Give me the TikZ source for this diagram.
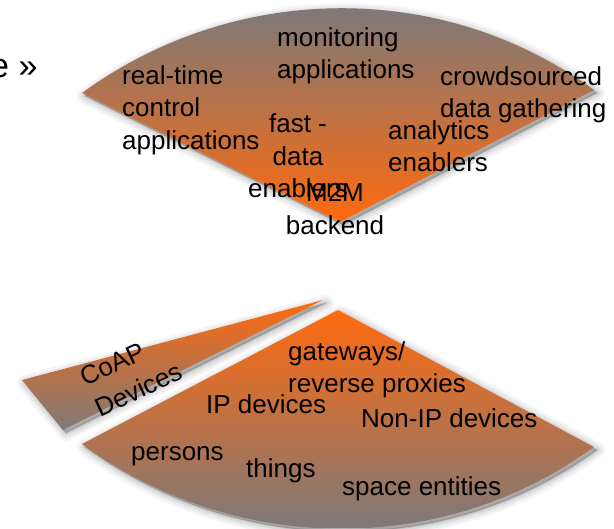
\documentclass[tikz,border=0pt]{standalone}
\usepackage{fontspec}
\setmainfont{Liberation Sans}
\definecolor{wgrey}{HTML}{7E7979}
\definecolor{worange}{HTML}{FF6A0E}
\begin{document}
\begin{tikzpicture}[x=1pt,y=-1pt,
  lbl/.style={font=\fontsize{26}{32.5}\selectfont, text=black, inner sep=0pt, align=left, anchor=west},
  ctr/.style={lbl, align=center, anchor=center},
  shadowlayer/.style={fill=black, draw=black, line join=round, shift={(3,3)}},
  % application layer: sector opening upwards
  topwedge/.style={insert path={(82,93) .. controls (234,-18) and (442,-21) .. (594,90) -- (340,222) -- cycle}},
  % sliver split off the device layer
  coapwedge/.style={insert path={(323,300) -- (22,380) -- (63,430) -- cycle}},
  % device layer: sector opening downwards
  basewedge/.style={insert path={(338,310) -- (594,447) .. controls (442,558) and (234,555) .. (82,444) -- cycle}}
]
\useasboundingbox (0,0) rectangle (614,529);

% soft drop shadows
\foreach \w/\o in {16/0.04,11/0.05,6/0.07,2/0.09} {
  \path[shadowlayer, line width=\w pt, opacity=\o, topwedge];
  \path[shadowlayer, line width=\w pt, opacity=\o, coapwedge];
  \path[shadowlayer, line width=\w pt, opacity=\o, basewedge];
}

% shaded sectors
\begin{scope}
  \path[clip, topwedge];
  \shade[top color=wgrey, bottom color=worange] (0,8) rectangle (614,222);
\end{scope}
\begin{scope}
  \path[clip, coapwedge];
  \shade[top color=worange, bottom color=wgrey] (0,300) rectangle (614,430);
\end{scope}
\begin{scope}
  \path[clip, basewedge];
  \shade[top color=worange, bottom color=wgrey] (0,310) rectangle (614,528);
\end{scope}

% labels
\node[lbl, font=\fontsize{34}{40}\selectfont, anchor=base west] (more) at (-10,78) {e »};

\node[lbl] (monitor) at (277,56) {monitoring\\applications};
\node[lbl] (realtime) at (122,110) {real-time\\control\\applications};
\node[lbl] (crowd) at (440,95) {crowdsourced\\data gathering};
\node[ctr] (fastdata) at (298,156) {fast -\\data\\enablers};
\node[lbl] (analytics) at (388,146) {analytics\\enablers};
\node[ctr] (m2m) at (335,209) {M2M\\backend};

\node[lbl, rotate=25, font=\fontsize{26}{34}\selectfont] (coap) at (89,394) {CoAP\\Devices};
\node[lbl] (gateways) at (288,370) {gateways/\\reverse proxies};
\node[lbl] (ipdev) at (206,404) {IP devices};
\node[lbl] (nonip) at (361,418) {Non-IP devices};
\node[lbl] (persons) at (131,456) {persons};
\node[lbl] (things) at (246,471) {things};
\node[lbl] (space) at (342,489) {space entities};
\end{tikzpicture}
\end{document}
